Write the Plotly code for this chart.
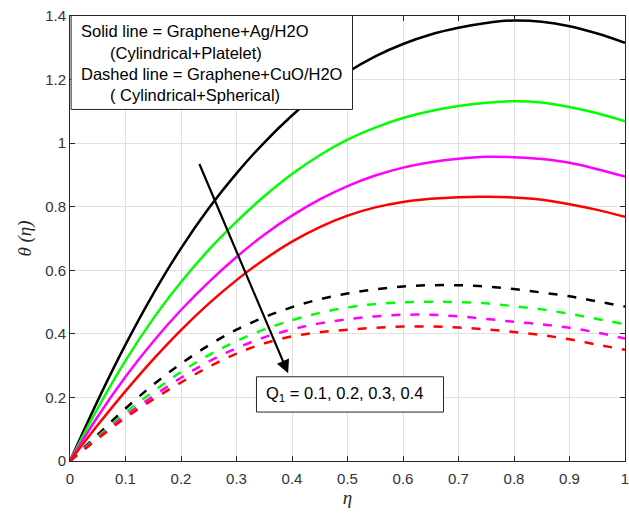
import plotly.graph_objects as go

# similarity variable eta
eta = [0.0, 0.05, 0.1, 0.15, 0.2, 0.25, 0.3, 0.35, 0.4, 0.45, 0.5,
       0.55, 0.6, 0.65, 0.7, 0.75, 0.8, 0.85, 0.9, 0.95, 1.0]

# Graphene+Ag/H2O (Cylindrical+Platelet), Q1 = 0.1 .. 0.4
ag_q1 = [0.0, 0.19, 0.366, 0.526, 0.669, 0.795, 0.905, 1.002, 1.087, 1.161, 1.223,
         1.273, 1.312, 1.342, 1.363, 1.378, 1.386, 1.382, 1.368, 1.345, 1.316]
ag_q2 = [0.0, 0.166, 0.316, 0.448, 0.563, 0.664, 0.753, 0.833, 0.903, 0.962, 1.011,
         1.049, 1.079, 1.101, 1.117, 1.127, 1.132, 1.128, 1.114, 1.094, 1.069]
ag_q3 = [0.0, 0.14, 0.265, 0.376, 0.475, 0.563, 0.642, 0.712, 0.772, 0.823, 0.865,
         0.898, 0.923, 0.94, 0.951, 0.957, 0.956, 0.95, 0.938, 0.918, 0.895]
ag_q4 = [0.0, 0.113, 0.22, 0.32, 0.412, 0.495, 0.569, 0.634, 0.69, 0.736, 0.772,
         0.798, 0.815, 0.825, 0.83, 0.831, 0.829, 0.822, 0.808, 0.79, 0.768]

# Graphene+CuO/H2O (Cylindrical+Spherical), Q1 = 0.1 .. 0.4
cuo_q1 = [0.0, 0.083, 0.165, 0.24, 0.306, 0.364, 0.413, 0.452, 0.484, 0.509, 0.527,
          0.54, 0.549, 0.553, 0.553, 0.549, 0.541, 0.53, 0.518, 0.502, 0.486]
cuo_q2 = [0.0, 0.077, 0.152, 0.218, 0.28, 0.333, 0.377, 0.414, 0.443, 0.466, 0.483,
          0.494, 0.499, 0.501, 0.5, 0.496, 0.487, 0.477, 0.463, 0.447, 0.43]
cuo_q3 = [0.0, 0.073, 0.143, 0.204, 0.262, 0.313, 0.355, 0.389, 0.414, 0.433, 0.446,
          0.455, 0.46, 0.46, 0.455, 0.447, 0.438, 0.43, 0.419, 0.404, 0.385]
cuo_q4 = [0.0, 0.07, 0.136, 0.194, 0.247, 0.296, 0.338, 0.37, 0.392, 0.405, 0.413,
          0.419, 0.423, 0.423, 0.42, 0.414, 0.406, 0.396, 0.383, 0.366, 0.35]

colors = ["#000000", "#00ff00", "#ff00ff", "#ff0000"]
x_ticks = [0, 0.1, 0.2, 0.3, 0.4, 0.5, 0.6, 0.7, 0.8, 0.9, 1.0]
x_labels = ["0", "0.1", "0.2", "0.3", "0.4", "0.5", "0.6", "0.7", "0.8", "0.9", "1"]
y_ticks = [0, 0.2, 0.4, 0.6, 0.8, 1.0, 1.2, 1.4]
y_labels = ["0", "0.2", "0.4", "0.6", "0.8", "1", "1.2", "1.4"]

fig = go.Figure()
for ys, c in zip([ag_q1, ag_q2, ag_q3, ag_q4], colors):
    fig.add_trace(go.Scatter(x=eta, y=ys, mode="lines",
                             line=dict(color=c, width=2.5, shape="spline")))
for ys, c in zip([cuo_q1, cuo_q2, cuo_q3, cuo_q4], colors):
    fig.add_trace(go.Scatter(x=eta, y=ys, mode="lines",
                             line=dict(color=c, width=2.5, shape="spline",
                                       dash="9px,10px")))

axis_common = dict(
    showgrid=True, gridcolor="#e0e0e0", gridwidth=1,
    showline=True, linecolor="#262626", linewidth=1, mirror="ticks",
    ticks="inside", ticklen=5, tickcolor="#262626",
    tickfont=dict(family="Liberation Sans, Arial", size=15, color="#333333"),
    zeroline=False,
)
title_font = dict(family="Liberation Serif, Times New Roman", size=19, color="#262626")

fig.update_xaxes(range=[0, 1], tickvals=x_ticks, ticktext=x_labels,
                 ticklabeloverflow="allow", ticklabelstandoff=4,
                 title=dict(text="<i>η</i>", standoff=1, font=title_font),
                 **axis_common)
fig.update_yaxes(range=[0, 1.4], tickvals=y_ticks, ticktext=y_labels,
                 title=dict(text="<i>θ (η)</i>", standoff=8, font=title_font),
                 **axis_common)

text_font = dict(family="Liberation Sans, Arial", size=16.5, color="#000000")

# legend box describing the line styles
fig.add_shape(type="rect", xref="x", yref="y", x0=0.002, x1=0.509, y0=1.106, y1=1.403,
              line=dict(color="#262626", width=1), fillcolor="white", layer="above")
legend_lines = [
    ("Solid line = Graphene+Ag/H2O", 0.016, 1.354),
    ("(Cylindrical+Platelet)", 0.068, 1.285),
    ("Dashed line = Graphene+CuO/H2O", 0.016, 1.219),
    ("( Cylindrical+Spherical)", 0.068, 1.150),
]
for txt, xv, yv in legend_lines:
    fig.add_annotation(x=xv, y=yv, xref="x", yref="y", text=txt, showarrow=False,
                       xanchor="left", yanchor="middle", font=text_font)

# arrow showing the direction of increasing Q1
fig.add_annotation(x=0.393, y=0.276, ax=0.232, ay=0.939, xref="x", yref="y",
                   axref="x", ayref="y", text="", showarrow=True,
                   arrowhead=2, arrowsize=1.2, arrowwidth=2.2, arrowcolor="#000000")

# parameter label box
fig.add_shape(type="rect", xref="x", yref="y", x0=0.336, x1=0.673, y0=0.154, y1=0.265,
              line=dict(color="#262626", width=1), fillcolor="white", layer="above")
fig.add_annotation(x=0.35, y=0.21, xref="x", yref="y",
                   text="Q<sub>1</sub> = 0.1, 0.2, 0.3, 0.4", showarrow=False,
                   xanchor="left", yanchor="middle", font=text_font)

fig.update_layout(
    width=629, height=514,
    margin=dict(l=70, r=0, t=16, b=53),
    paper_bgcolor="white", plot_bgcolor="white",
    showlegend=False,
)

fig.write_html("out.html")
